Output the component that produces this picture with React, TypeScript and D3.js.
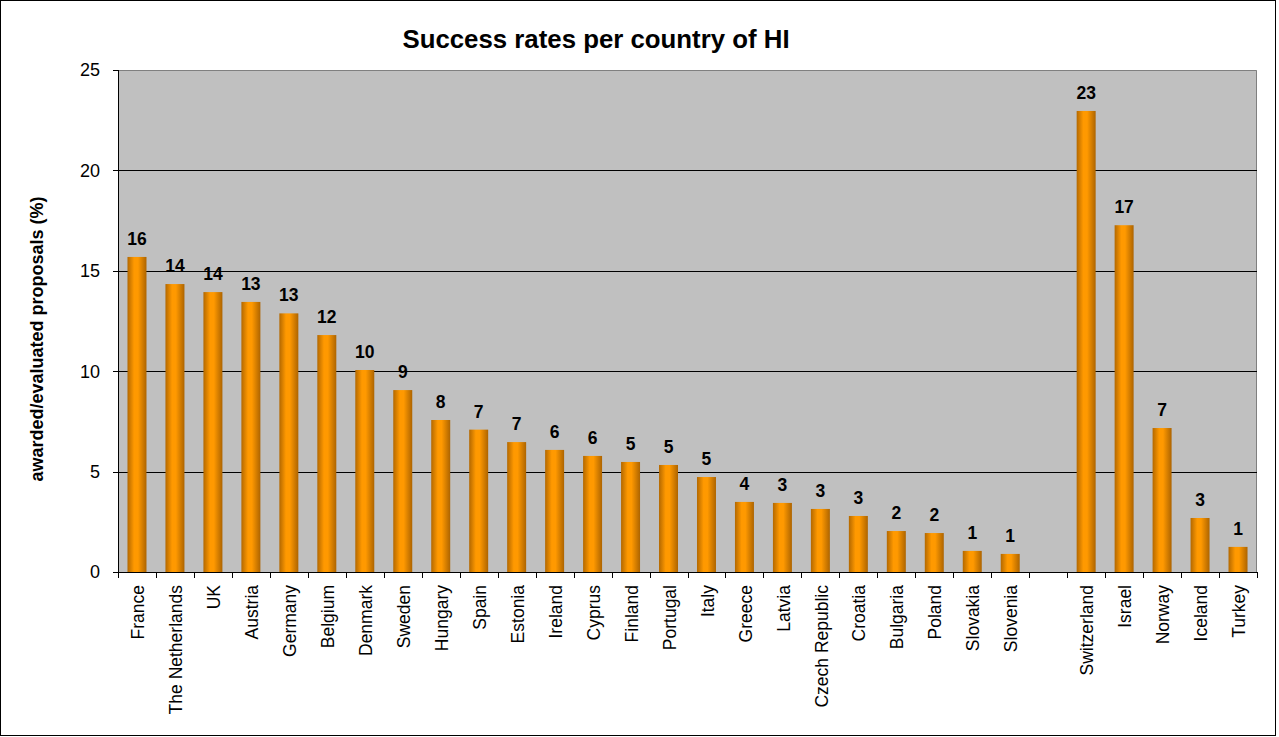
import * as d3 from 'd3';
import React, { useEffect, useRef } from "react";

const countries = [
    'France', 'The Netherlands', 'UK', 'Austria', 'Germany', 'Belgium', 'Denmark', 'Sweden',
    'Hungary', 'Spain', 'Estonia', 'Ireland', 'Cyprus', 'Finland', 'Portugal', 'Italy',
    'Greece', 'Latvia', 'Czech Republic', 'Croatia', 'Bulgaria', 'Poland', 'Slovakia', 'Slovenia',
    '', 'Switzerland', 'Israel', 'Norway', 'Iceland', 'Turkey'
];

// success rate (%), null for the empty slot between the two groups
const rates: (number | null)[] = [
    15.69, 14.34, 13.94, 13.45, 12.88, 11.8, 10.06, 9.06,
    7.57, 7.09, 6.47, 6.08, 5.78, 5.48, 5.33, 4.73,
    3.49, 3.44, 3.14, 2.79, 2.04, 1.94, 1.05, 0.9,
    null, 22.96, 17.27, 7.17, 2.69, 1.25
];

const rateLabels = [
    '16', '14', '14', '13', '13', '12', '10', '9',
    '8', '7', '7', '6', '6', '5', '5', '5',
    '4', '3', '3', '3', '2', '2', '1', '1',
    '', '23', '17', '7', '3', '1'
];

const yTicks = [0, 5, 10, 15, 20, 25];

const FONT = 'Arial, "Liberation Sans", sans-serif';

const App: React.FC = () => {
    const ref = useRef<SVGSVGElement>(null);

    useEffect(() => {
        if (!ref.current) return;
        const width = 1279;
        const height = 737;
        const margin = { top: 70, right: 22, bottom: 165, left: 118 };
        const innerW = width - margin.left - margin.right;
        const innerH = height - margin.top - margin.bottom;

        const root = d3.select(ref.current)
            .attr('width', width)
            .attr('height', height);
        root.selectAll('*').remove();

        const defs = root.append('defs');
        const grad = defs.append('linearGradient')
            .attr('id', 'barGrad')
            .attr('x1', '0%').attr('x2', '100%')
            .attr('y1', '0%').attr('y2', '0%');
        grad.append('stop').attr('offset', '0%').attr('stop-color', '#b36800');
        grad.append('stop').attr('offset', '35%').attr('stop-color', '#ff9900');
        grad.append('stop').attr('offset', '55%').attr('stop-color', '#ff9900');
        grad.append('stop').attr('offset', '100%').attr('stop-color', '#ad6400');

        root.append('rect')
            .attr('x', 0.5).attr('y', 0.5)
            .attr('width', 1275).attr('height', 735)
            .attr('fill', '#ffffff')
            .attr('stroke', '#000000');

        root.append('text')
            .attr('x', 596)
            .attr('y', 48)
            .attr('text-anchor', 'middle')
            .attr('font-family', FONT)
            .attr('font-weight', 'bold')
            .attr('font-size', 25.8)
            .text('Success rates per country of HI');

        root.append('text')
            .attr('transform', `translate(43, ${339}) rotate(-90)`)
            .attr('text-anchor', 'middle')
            .attr('font-family', FONT)
            .attr('font-weight', 'bold')
            .attr('font-size', 18)
            .text('awarded/evaluated proposals (%)');

        const svg = root.append('g')
            .attr('transform', `translate(${margin.left}, ${margin.top})`);

        const x = d3.scaleBand<string>()
            .domain(countries.map((c, i) => `${i}`))
            .range([0, innerW])
            .paddingInner(0.5)
            .paddingOuter(0.25);

        const y = d3.scaleLinear().domain([0, 25]).range([innerH, 0]);

        svg.append('rect')
            .attr('width', innerW)
            .attr('height', innerH)
            .attr('fill', '#c0c0c0');

        // plot border (top/right grey)
        svg.append('path')
            .attr('d', `M0.5,${y(25) + 0.5}H${innerW - 0.5}V${innerH}`)
            .attr('fill', 'none')
            .attr('stroke', '#808080');

        svg.selectAll('.grid')
            .data(yTicks.filter(t => t > 0 && t < 25))
            .enter()
            .append('line')
            .attr('x1', 0).attr('x2', innerW)
            .attr('y1', d => Math.round(y(d)) + 0.5)
            .attr('y2', d => Math.round(y(d)) + 0.5)
            .attr('stroke', '#000000');

        const step = x.step();
        const idx = countries.map((c, i) => i);

        svg.selectAll('.bar')
            .data(idx.filter(i => rates[i] !== null))
            .enter()
            .append('rect')
            .attr('x', i => x(`${i}`)!)
            .attr('width', x.bandwidth())
            .attr('y', i => y(rates[i] as number))
            .attr('height', i => innerH - y(rates[i] as number))
            .attr('fill', 'url(#barGrad)');

        svg.selectAll('.val')
            .data(idx.filter(i => rates[i] !== null))
            .enter()
            .append('text')
            .attr('x', i => x(`${i}`)! + x.bandwidth() / 2)
            .attr('y', i => y(rates[i] as number) - 12)
            .attr('text-anchor', 'middle')
            .attr('font-family', FONT)
            .attr('font-weight', 'bold')
            .attr('font-size', 17.5)
            .text(i => rateLabels[i]);

        // y axis
        const yAxis = svg.append('g');
        yAxis.append('line')
            .attr('x1', 0.5).attr('x2', 0.5)
            .attr('y1', 0).attr('y2', innerH)
            .attr('stroke', '#000000');
        yAxis.selectAll('.yt')
            .data(yTicks)
            .enter()
            .append('line')
            .attr('x1', -5).attr('x2', 0)
            .attr('y1', d => Math.round(y(d)) + 0.5)
            .attr('y2', d => Math.round(y(d)) + 0.5)
            .attr('stroke', '#000000');
        yAxis.selectAll('.yl')
            .data(yTicks)
            .enter()
            .append('text')
            .attr('x', -18)
            .attr('y', d => y(d))
            .attr('dy', '0.35em')
            .attr('text-anchor', 'end')
            .attr('font-family', FONT)
            .attr('font-size', 18)
            .text(d => `${d}`);

        // x axis
        const xAxis = svg.append('g').attr('transform', `translate(0, ${innerH})`);
        xAxis.append('line')
            .attr('x1', 0).attr('x2', innerW)
            .attr('y1', 0.5).attr('y2', 0.5)
            .attr('stroke', '#000000');
        xAxis.selectAll('.xt')
            .data(d3.range(countries.length + 1))
            .enter()
            .append('line')
            .attr('x1', i => Math.round(i * step) + 0.5)
            .attr('x2', i => Math.round(i * step) + 0.5)
            .attr('y1', 0).attr('y2', 6)
            .attr('stroke', '#000000');
        xAxis.selectAll('.xl')
            .data(idx)
            .enter()
            .append('text')
            .attr('transform', i => `translate(${x(`${i}`)! + x.bandwidth() / 2 + 1}, 13) rotate(-90)`)
            .attr('dy', '0.35em')
            .attr('text-anchor', 'end')
            .attr('font-family', FONT)
            .attr('font-size', 17.5)
            .text(i => countries[i]);
    }, []);

    return (
        <svg ref={ref} style={{ position: 'absolute', left: 0, top: 0 }}></svg>
    );
};

export default App;
